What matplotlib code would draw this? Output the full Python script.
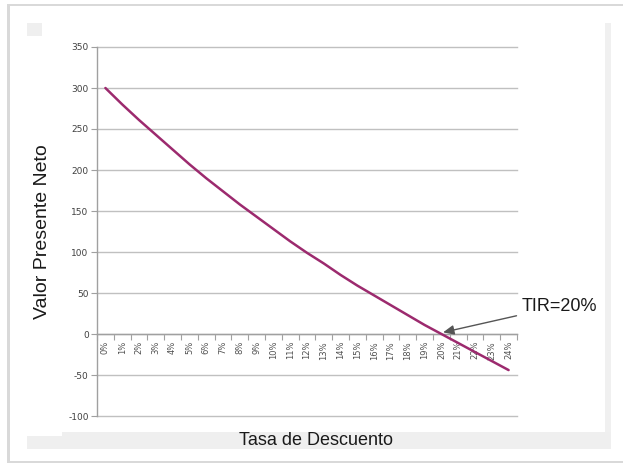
import matplotlib
matplotlib.use("Agg")
import matplotlib.pyplot as plt
from matplotlib.patches import Rectangle
from matplotlib.ticker import FixedLocator, NullFormatter, FixedFormatter

# Discount rates and net present value
rates = [f"{i}%" for i in range(25)]
npv = [300, 280, 261, 243, 225, 207, 190, 174, 158, 143, 128, 113, 99, 86,
       72, 59, 47, 35, 23, 11, 0, -11, -22, -33, -44]
y_ticks = [-100, -50, 0, 50, 100, 150, 200, 250, 300, 350]
irr_label = "TIR=20%"
irr_index = 20

W, H = 623, 465
fig = plt.figure(figsize=(W / 100, H / 100), dpi=100)
fig.patch.set_facecolor("white")

def box(x0, y0, x1, y1, **kw):
    fig.patches.append(Rectangle((x0 / W, 1 - y1 / H), (x1 - x0) / W, (y1 - y0) / H,
                                 transform=fig.transFigure, **kw))

# Outer frame with soft shadow
box(7, 4, 623, 463, facecolor="#d9d9d9", edgecolor="none", zorder=-5)
box(10, 6, 623, 461, facecolor="white", edgecolor="none", zorder=-4)
# Decorative chart-area pieces
box(27, 23, 42, 36, facecolor="#efefef", edgecolor="none", zorder=-3)
box(605, 23, 611, 448, facecolor="#f0f0f0", edgecolor="none", zorder=-3)
box(27, 436, 611, 449, facecolor="#efefef", edgecolor="none", zorder=-3)
box(62, 432, 611, 449, facecolor="#efefef", edgecolor="none", zorder=-3)

ax = fig.add_axes([97 / W, 1 - 416 / H, (517 - 97) / W, (416 - 47) / H])
ax.set_facecolor("none")

x = list(range(len(rates)))
ax.plot(x, npv, color="#9c2a6e", lw=1.8, solid_capstyle="round", zorder=3)

ax.set_xlim(-0.5, len(rates) - 0.5)
ax.set_ylim(-100, 350)

# Horizontal gridlines
ax.set_yticks(y_ticks)
ax.set_yticklabels([str(v) for v in y_ticks], fontsize=6.5, color="#404040",
                   family="DejaVu Sans")
ax.yaxis.grid(True, color="#c0c0c0", lw=1.0)
for gl in ax.get_ygridlines():
    gl.set_clip_on(False)
ax.set_axisbelow(True)
ax.tick_params(axis="y", length=4, width=0.8, color="#a0a0a0", pad=2)

# Category axis crossing at zero
for s in ("top", "right"):
    ax.spines[s].set_visible(False)
ax.spines["left"].set_color("#a0a0a0")
ax.spines["left"].set_linewidth(1.0)
ax.spines["bottom"].set_position(("data", 0))
ax.spines["bottom"].set_color("#a0a0a0")
ax.spines["bottom"].set_linewidth(1.0)

ax.xaxis.set_major_locator(FixedLocator([i - 0.5 for i in range(len(rates) + 1)]))
ax.xaxis.set_major_formatter(NullFormatter())
ax.xaxis.set_minor_locator(FixedLocator(x))
ax.xaxis.set_minor_formatter(FixedFormatter(rates))
ax.tick_params(axis="x", which="major", length=4, width=0.8, color="#a0a0a0",
               direction="out")
ax.tick_params(axis="x", which="minor", length=0, pad=5, labelsize=6,
               labelcolor="#505050", labelrotation=90)

ax.set_ylabel("Valor Presente Neto", fontsize=14, family="Liberation Sans",
              color="#1a1a1a", labelpad=12)

fig.text(316 / W, 1 - 440 / H, "Tasa de Descuento", fontsize=13,
         family="Liberation Sans", color="#1a1a1a", ha="center", va="center")

ax.annotate(irr_label, xy=(irr_index + 0.1, npv[irr_index] + 2),
            xytext=(522 / W, 1 - 306 / H), textcoords="figure fraction",
            fontsize=13, family="Liberation Sans", color="#1a1a1a",
            ha="left", va="center",
            arrowprops=dict(arrowstyle="-|>,head_length=0.5,head_width=0.22",
                            color="#555555", lw=1.0, shrinkA=2, shrinkB=0),
            annotation_clip=False)

fig.savefig("out.png", dpi=100)
